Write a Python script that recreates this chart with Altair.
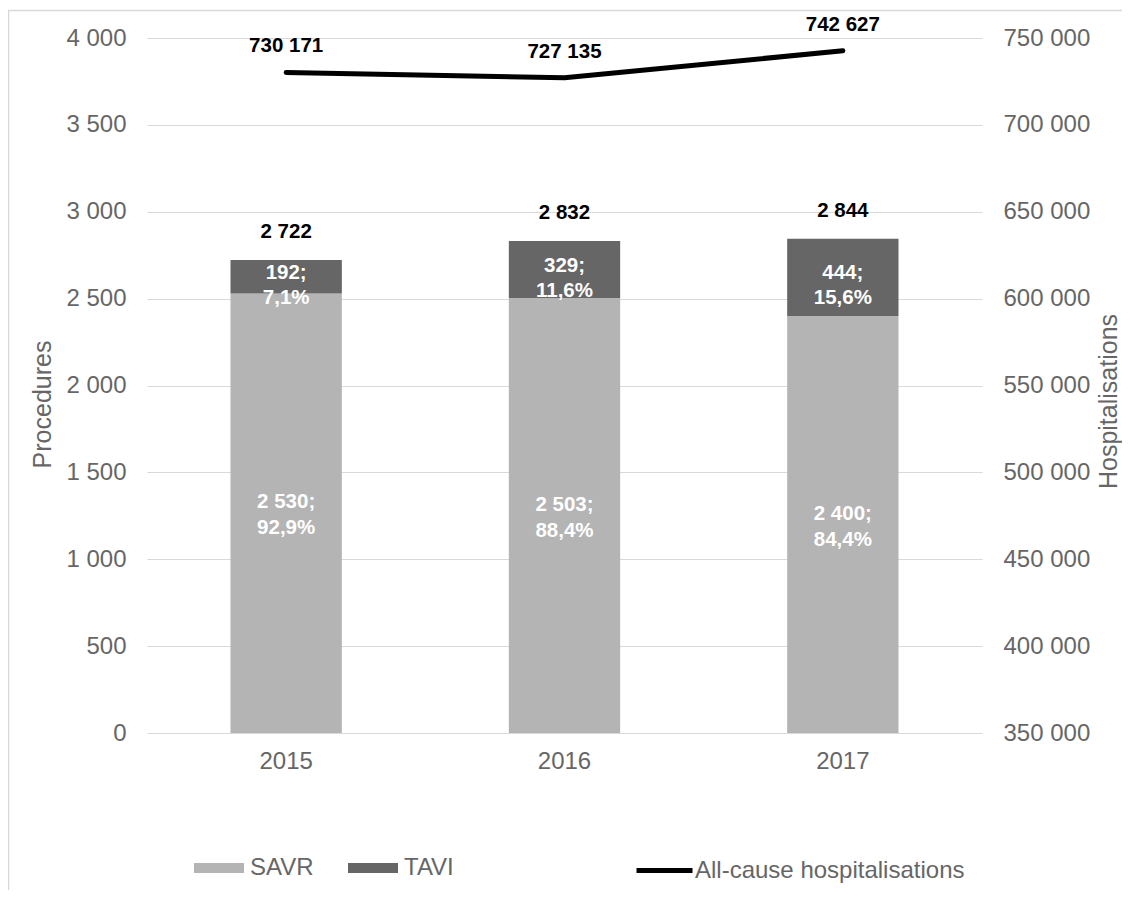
import altair as alt
import pandas as pd

years = ["2015", "2016", "2017"]
savr = [2530, 2503, 2400]
tavi = [192, 329, 444]
totals = [2722, 2832, 2844]
savr_pct = [92.9, 88.4, 84.4]
tavi_pct = [7.1, 11.6, 15.6]
hosp = [730171, 727135, 742627]

SAVR_COL = "#b4b4b4"
TAVI_COL = "#666666"
TXT = "#666666"
GRID = "#d9d9d9"
FONT = "Liberation Sans"


def fmt_int(v):
    return f"{v:,}".replace(",", " ")


def fmt_pct(p):
    return f"{p:.1f}".replace(".", ",") + "%"


wide = pd.DataFrame({
    "year": years,
    "savr": savr,
    "tavi": tavi,
    "total": totals,
    "hosp": hosp,
    "savr_lbl": [f"{fmt_int(v)};\n{fmt_pct(p)}" for v, p in zip(savr, savr_pct)],
    "tavi_lbl": [f"{fmt_int(v)};\n{fmt_pct(p)}" for v, p in zip(tavi, tavi_pct)],
    "total_lbl": [fmt_int(v) for v in totals],
    "hosp_lbl": [fmt_int(v) for v in hosp],
})

long = pd.DataFrame({
    "year": years * 2,
    "type": ["SAVR"] * 3 + ["TAVI"] * 3,
    "value": savr + tavi,
    "ord": [0] * 3 + [1] * 3,
})

W, H = 835, 695
LBL = 24
TTL = 25
VAL = 20.5

x_enc = alt.X(
    "year:N", title=None,
    scale=alt.Scale(paddingInner=0.6, paddingOuter=0.3),
    axis=alt.Axis(labelAngle=0, ticks=False, domain=False,
                  labelPadding=16, grid=False, labelFontSize=LBL,
                  labelColor=TXT, labelFont=FONT),
)
x_other = alt.X("year:N", title=None)

lab_expr = "replace(format(datum.value, ','), ',', ' ')"

left_scale = alt.Scale(domain=[0, 4000], nice=False)
LT = "Procedures"
RT = "Hospitalisations"

bars = alt.Chart(long).mark_bar().encode(
    x=x_enc,
    y=alt.Y(
        "value:Q", stack="zero", scale=left_scale, title=LT,
        axis=alt.Axis(
            values=list(range(0, 4001, 500)), grid=True,
            gridColor=GRID, domain=False, ticks=False,
            labelPadding=21, labelExpr=lab_expr, labelFontSize=LBL,
            labelColor=TXT, labelFont=FONT, titleFont=FONT, titleFontSize=TTL,
            titleFontWeight="normal", titleColor=TXT,
            titleX=-105, titleY=366, titleAngle=270,
            titleBaseline="middle", titleAlign="center",
        ),
    ),
    fill=alt.Fill(
        "type:N",
        scale=alt.Scale(domain=["SAVR", "TAVI"], range=[SAVR_COL, TAVI_COL]),
        legend=alt.Legend(
            orient="none", legendX=46, legendY=818, direction="horizontal",
            title=None, symbolType="M-2.5,-0.5H2.5V0.5H-2.5Z", symbolSize=400,
            symbolStrokeWidth=0, symbolOffset=14, labelOffset=19,
            columnPadding=33, labelFontSize=LBL, labelColor=TXT, labelFont=FONT,
            padding=0, labelLimit=400,
        ),
    ),
    order=alt.Order("ord:Q"),
)

savr_text = alt.Chart(wide).transform_calculate(
    ymid="datum.savr / 2"
).mark_text(
    font=FONT, fontSize=VAL, fontWeight="bold", color="white",
    lineBreak="\n", lineHeight=26, baseline="middle", align="center", dy=-11,
).encode(
    x=x_other,
    y=alt.Y("ymid:Q", scale=left_scale, title=LT),
    text="savr_lbl:N",
)

tavi_text = alt.Chart(wide).transform_calculate(
    ymid="datum.savr + datum.tavi / 2"
).mark_text(
    font=FONT, fontSize=VAL, fontWeight="bold", color="white",
    lineBreak="\n", lineHeight=25, baseline="middle", align="center", dy=-4,
).encode(
    x=x_other,
    y=alt.Y("ymid:Q", scale=left_scale, title=LT),
    text="tavi_lbl:N",
)

total_text = alt.Chart(wide).mark_text(
    font=FONT, fontSize=VAL, fontWeight="bold", color="black",
    baseline="middle", align="center", dy=-28,
).encode(
    x=x_other,
    y=alt.Y("total:Q", scale=left_scale, title=LT),
    text="total_lbl:N",
)

frame = alt.Chart(pd.DataFrame({"k": [0]})).mark_rect(
    fill="transparent", stroke=GRID, strokeWidth=1.5
).encode(
    x=alt.value(-138.5), x2=alt.value(W + 200),
    y=alt.value(-27.5), y2=alt.value(H + 200),
)

right_scale = alt.Scale(domain=[350000, 750000], nice=False)

line = alt.Chart(wide).transform_calculate(
    series="'All-cause hospitalisations'"
).mark_line(strokeWidth=5, strokeCap="round", strokeJoin="round").encode(
    x=x_other,
    y=alt.Y(
        "hosp:Q", scale=right_scale, title=RT,
        axis=alt.Axis(
            orient="right",
            values=list(range(350000, 750001, 50000)), grid=False,
            domain=False, ticks=False, labelPadding=21, labelExpr=lab_expr,
            labelFontSize=LBL, labelColor=TXT, labelFont=FONT, titleFont=FONT,
            titleFontSize=TTL, titleFontWeight="normal", titleColor=TXT,
            titleX=126, titleY=363, titleAngle=270,
            titleBaseline="middle", titleAlign="center",
        ),
    ),
    stroke=alt.Stroke(
        "series:N",
        scale=alt.Scale(range=["black"]),
        legend=alt.Legend(
            orient="none", legendX=487, legendY=802, title=None,
            symbolType="stroke", symbolSize=3136, symbolStrokeWidth=5,
            labelOffset=0, labelFontSize=LBL, labelColor=TXT, labelFont=FONT,
            padding=0, labelLimit=400,
        ),
    ),
)

line_text = alt.Chart(wide).mark_text(
    font=FONT, fontSize=VAL, fontWeight="bold", color="black",
    baseline="middle", align="center", dy=-26,
).encode(
    x=x_other,
    y=alt.Y("hosp:Q", scale=right_scale, title=RT),
    text="hosp_lbl:N",
)

left = alt.layer(frame, bars, savr_text, tavi_text, total_text)
right = alt.layer(line, line_text)

chart = alt.layer(left, right).resolve_scale(
    y="independent"
).properties(
    width=W, height=H,
    autosize=alt.AutoSizeParams(type="none"),
    padding={"left": 139, "top": 30, "right": 140, "bottom": 157},
).configure_view(stroke=None)

chart.save("out.html", embed_options={"renderer": "svg", "actions": False})
